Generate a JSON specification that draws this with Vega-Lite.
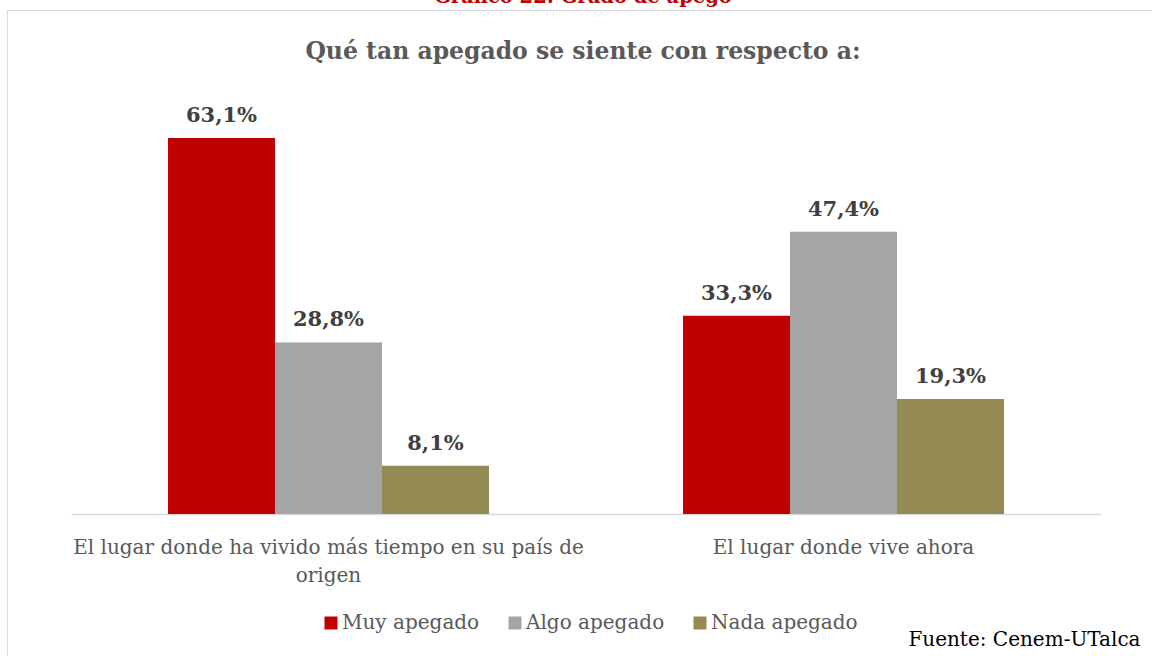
{
  "$schema": "https://vega.github.io/schema/vega-lite/v6.json",
  "autosize": {"type": "none"},
  "padding": {"left": 7, "top": 10, "right": -5, "bottom": -5},
  "width": 1150,
  "height": 651,
  "background": "#FFFFFF",
  "config": {
    "view": {"stroke": "#D9D9D9", "strokeWidth": 1},
    "locale": {"number": {"decimal": ",", "thousands": ".", "grouping": [3], "currency": ["", " €"]}},
    "font": "DejaVu Serif"
  },
  "title": {
    "text": "Gráfico 22: Grado de apego",
    "subtitle": "Qué tan apegado se siente con respecto a:",
    "anchor": "middle",
    "font": "DejaVu Serif",
    "fontSize": 19.5,
    "fontWeight": "bold",
    "color": "#C00000",
    "subtitleFont": "DejaVu Serif",
    "subtitleFontSize": 23.5,
    "subtitleFontWeight": "bold",
    "subtitleColor": "#595959",
    "subtitlePadding": 32,
    "offset": -54,
    "dx": 1
  },
  "data": {
    "values": [
      {"lugar": "El lugar donde ha vivido más tiempo en su país de origen", "grado": "Muy apegado", "valor": 0.631},
      {"lugar": "El lugar donde ha vivido más tiempo en su país de origen", "grado": "Algo apegado", "valor": 0.288},
      {"lugar": "El lugar donde ha vivido más tiempo en su país de origen", "grado": "Nada apegado", "valor": 0.081},
      {"lugar": "El lugar donde vive ahora", "grado": "Muy apegado", "valor": 0.333},
      {"lugar": "El lugar donde vive ahora", "grado": "Algo apegado", "valor": 0.474},
      {"lugar": "El lugar donde vive ahora", "grado": "Nada apegado", "valor": 0.193}
    ]
  },
  "encoding": {
    "x": {
      "field": "lugar",
      "type": "nominal",
      "sort": null,
      "scale": {"range": [64, 1094], "paddingInner": 0.3767, "paddingOuter": 0.1883},
      "axis": {
        "orient": "bottom",
        "offset": -147,
        "domainColor": "#D9D9D9",
        "domainWidth": 1.5,
        "ticks": false,
        "tickSize": 0,
        "labelAngle": 0,
        "labelPadding": 23,
        "labelFont": "DejaVu Serif",
        "labelFontSize": 20,
        "labelColor": "#595959",
        "labelLineHeight": 28,
        "labelLimit": 0,
        "labelExpr": "datum.label == 'El lugar donde ha vivido más tiempo en su país de origen' ? ['El lugar donde ha vivido más tiempo en su país de', 'origen'] : datum.label",
        "title": "Fuente: Cenem-UTalca",
        "titleFont": "DejaVu Serif",
        "titleFontSize": 20,
        "titleFontWeight": "normal",
        "titleColor": "#000000",
        "titleX": 1133,
        "titleY": 131,
        "titleAlign": "right",
        "titleAnchor": "end",
        "titleBaseline": "alphabetic"
      }
    },
    "xOffset": {
      "field": "grado",
      "type": "nominal",
      "sort": ["Muy apegado", "Algo apegado", "Nada apegado"],
      "scale": {"paddingInner": 0, "paddingOuter": 0}
    },
    "y": {
      "field": "valor",
      "type": "quantitative",
      "scale": {"domain": [0, 0.7], "range": [504, 87]},
      "axis": null
    }
  },
  "layer": [
    {
      "mark": {"type": "bar"},
      "encoding": {
        "color": {
          "field": "grado",
          "type": "nominal",
          "sort": ["Muy apegado", "Algo apegado", "Nada apegado"],
          "scale": {"domain": ["Muy apegado", "Algo apegado", "Nada apegado"], "range": ["#C00000", "#A5A5A5", "#948A54"]},
          "legend": {
            "orient": "none",
            "legendX": 314,
            "legendY": 603,
            "direction": "horizontal",
            "title": null,
            "symbolType": "square",
            "symbolSize": 169,
            "symbolStrokeWidth": 0,
            "labelFont": "DejaVu Serif",
            "labelFontSize": 20,
            "labelColor": "#595959",
            "labelOffset": 1,
            "columnPadding": 25,
            "labelLimit": 0
          }
        }
      }
    },
    {
      "mark": {"type": "text", "baseline": "alphabetic", "dy": -16, "font": "DejaVu Serif", "fontWeight": "bold", "fontSize": 21, "color": "#404040"},
      "encoding": {
        "text": {"field": "valor", "type": "quantitative", "format": ".1%"}
      }
    }
  ]
}
